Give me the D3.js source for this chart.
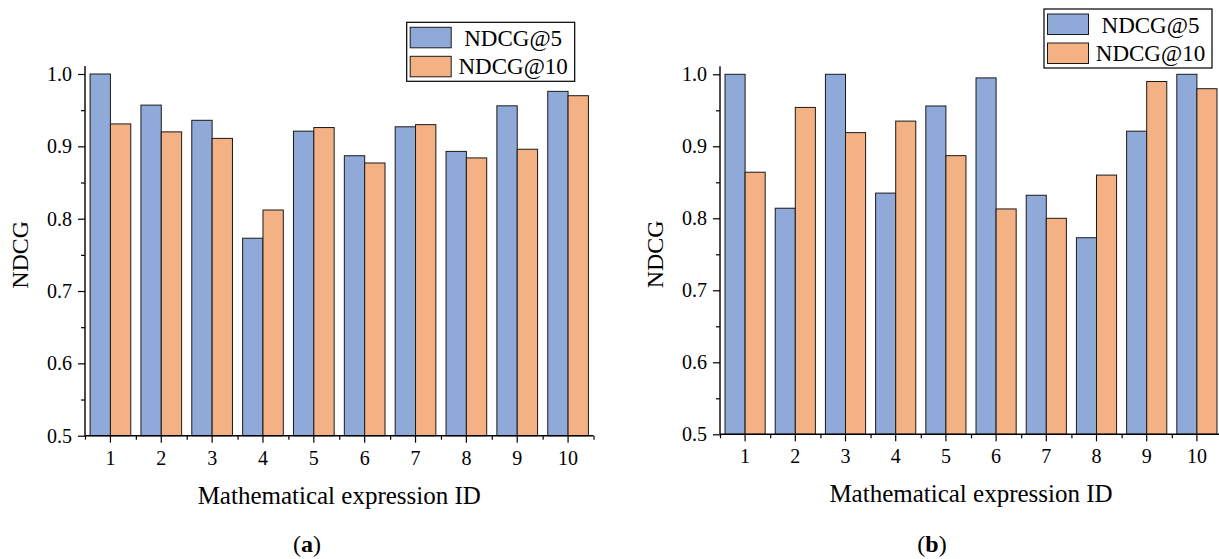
<!DOCTYPE html>
<html>
<head>
<meta charset="utf-8">
<script src="https://cdn.jsdelivr.net/npm/d3@7"></script>
<style>
  body { margin: 0; background: #fff; }
  svg text { font-family: "Liberation Serif", "Times New Roman", serif; }
</style>
</head>
<body>
<div id="chart"></div>
<script>
// data
const ids = ["1", "2", "3", "4", "5", "6", "7", "8", "9", "10"];
const seriesNames = ["NDCG@5", "NDCG@10"];
const ndcg5A = [1.0, 0.957, 0.936, 0.773, 0.921, 0.887, 0.927, 0.893, 0.956, 0.976];
const ndcg10A = [0.931, 0.920, 0.911, 0.812, 0.926, 0.877, 0.930, 0.884, 0.896, 0.970];
const ndcg5B = [1.0, 0.814, 1.0, 0.835, 0.956, 0.995, 0.832, 0.773, 0.921, 1.0];
const ndcg10B = [0.864, 0.954, 0.919, 0.935, 0.887, 0.813, 0.800, 0.860, 0.990, 0.980];
const yTicks = [0.5, 0.6, 0.7, 0.8, 0.9, 1.0];
const yMinorTicks = [0.55, 0.65, 0.75, 0.85, 0.95];
const panelLabels = ["a", "b"];

const colors = ["#8faad9", "#f4b183"];
const serif = "'Liberation Serif', 'Times New Roman', serif";

const svg = d3.select("#chart").append("svg")
    .attr("width", 1219)
    .attr("height", 559);

const panels = [
  { series: [ndcg5A, ndcg10A], label: panelLabels[0],
    left: 85, right: 593.5, top: 74, bottom: 435.7, legendX: 406.7, legendY: 22.3, capX: 307 },
  { series: [ndcg5B, ndcg10B], label: panelLabels[1],
    left: 720, right: 1222, top: 74.3, bottom: 434.3, legendX: 1044, legendY: 9, capX: 932 }
];

panels.forEach(p => {
  const g = svg.append("g");

  const x = d3.scaleBand()
      .domain(ids)
      .range([p.left, p.right])
      .padding(0);

  const xs = d3.scaleBand()
      .domain(seriesNames)
      .range([-0.4 * x.bandwidth(), 0.4 * x.bandwidth()]);

  const y = d3.scaleLinear()
      .domain([0.5, 1.0])
      .range([p.bottom, p.top]);

  // bars
  const rows = ids.map((id, i) => ({ id, values: p.series.map((s, k) => ({ name: seriesNames[k], v: s[i], k })) }));

  g.append("g").selectAll("g")
    .data(rows)
    .join("g")
      .attr("transform", d => `translate(${x(d.id) + x.bandwidth() / 2},0)`)
    .selectAll("rect")
    .data(d => d.values)
    .join("rect")
      .attr("x", d => xs(d.name))
      .attr("y", d => y(d.v))
      .attr("width", xs.bandwidth())
      .attr("height", d => y(0.5) - y(d.v))
      .attr("fill", d => colors[d.k])
      .attr("stroke", "#1a1a1a")
      .attr("stroke-width", 1);

  // y axis
  const yAxis = g.append("g")
      .attr("transform", `translate(${p.left},0)`)
      .attr("font-family", serif)
      .call(d3.axisLeft(y).tickValues(yTicks).tickSize(7).tickPadding(6).tickFormat(d3.format(".1f")))
      .call(a => a.select(".domain").remove());
  yAxis.selectAll("text").attr("font-size", 20).attr("font-family", serif).attr("fill", "#000");
  yAxis.selectAll("line").attr("stroke", "#000").attr("stroke-width", 1.2);

  g.append("g")
      .attr("transform", `translate(${p.left},0)`)
      .call(d3.axisLeft(y).tickValues(yMinorTicks).tickSize(4).tickFormat(""))
      .call(a => a.select(".domain").remove())
      .selectAll("line").attr("stroke", "#000").attr("stroke-width", 1.2);

  g.append("line")
      .attr("x1", p.left).attr("x2", p.left)
      .attr("y1", y(0.5)).attr("y2", y(1.0) - 8)
      .attr("stroke", "#000").attr("stroke-width", 1.4);

  // x axis
  const xAxis = g.append("g")
      .attr("transform", `translate(0,${p.bottom})`)
      .attr("font-family", serif)
      .call(d3.axisBottom(x).tickSize(7).tickSizeOuter(0))
      .call(a => a.select(".domain").remove());
  xAxis.selectAll("text")
      .attr("y", 29).attr("dy", 0)
      .attr("font-size", 20).attr("font-family", serif).attr("fill", "#000");
  xAxis.selectAll("line").attr("stroke", "#000").attr("stroke-width", 1.2);

  const edges = d3.scaleLinear().domain([0, ids.length]).range([p.left, p.right]);
  g.append("g")
      .attr("transform", `translate(0,${p.bottom})`)
      .call(d3.axisBottom(edges).tickValues(d3.range(0, ids.length + 1)).tickSize(4).tickFormat(""))
      .call(a => a.select(".domain").remove())
      .selectAll("line").attr("stroke", "#000").attr("stroke-width", 1.2);

  g.append("line")
      .attr("x1", p.left).attr("x2", p.right)
      .attr("y1", p.bottom).attr("y2", p.bottom)
      .attr("stroke", "#000").attr("stroke-width", 1.4);

  // axis titles
  g.append("text")
      .attr("x", (p.left + p.right) / 2)
      .attr("y", p.bottom + 68)
      .attr("text-anchor", "middle")
      .attr("font-family", serif)
      .attr("font-size", 25)
      .text("Mathematical expression ID");

  g.append("text")
      .attr("transform", `translate(${p.left - 57},${(p.top + p.bottom) / 2}) rotate(-90)`)
      .attr("text-anchor", "middle")
      .attr("font-family", serif)
      .attr("font-size", 24)
      .text("NDCG");

  // caption
  const cap = g.append("text")
      .attr("x", p.capX)
      .attr("y", 552)
      .attr("text-anchor", "middle")
      .attr("font-family", serif)
      .attr("font-size", 24);
  cap.append("tspan").text("(");
  cap.append("tspan").attr("font-weight", "bold").text(p.label);
  cap.append("tspan").text(")");

  // legend
  const lg = g.append("g").attr("transform", `translate(${p.legendX},${p.legendY})`);
  lg.append("rect")
      .attr("width", 168).attr("height", 59)
      .attr("fill", "#fff").attr("stroke", "#000").attr("stroke-width", 1.2);
  seriesNames.forEach((name, k) => {
    lg.append("rect")
        .attr("x", 3.5).attr("y", 5 + k * 29)
        .attr("width", 41).attr("height", 20.5)
        .attr("fill", colors[k]).attr("stroke", "#1a1a1a").attr("stroke-width", 1);
    lg.append("text")
        .attr("x", 106.5).attr("y", 23.7 + k * 28.5)
        .attr("text-anchor", "middle")
        .attr("font-family", serif)
        .attr("font-size", 23)
        .text(name);
  });
});
</script>
</body>
</html>
